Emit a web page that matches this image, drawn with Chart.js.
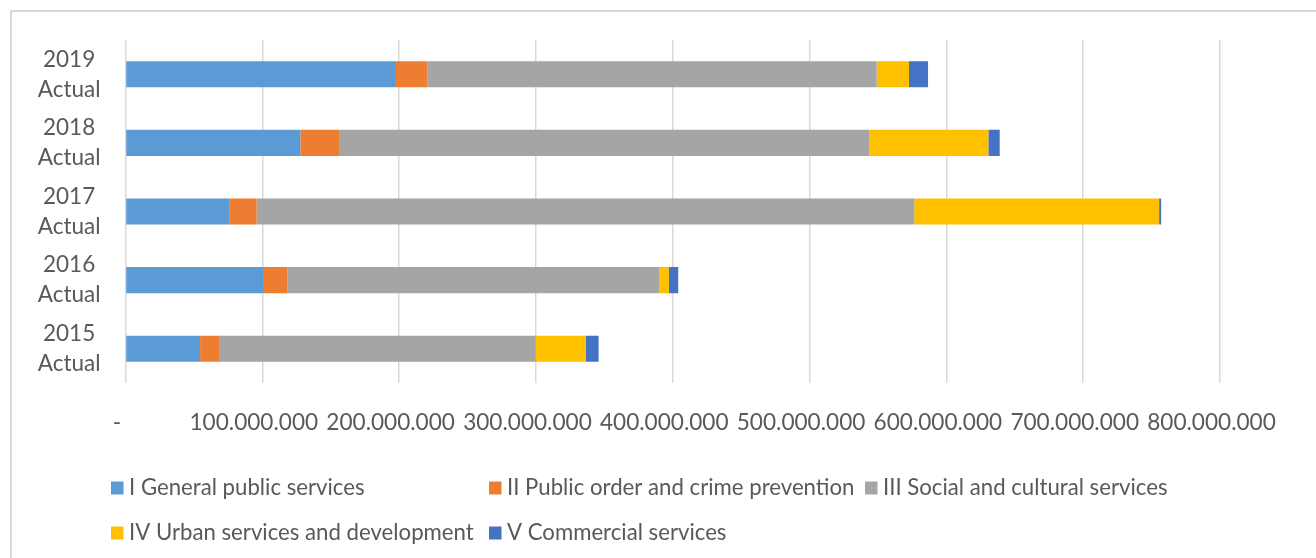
<!DOCTYPE html>
<html>
<head>
<meta charset="utf-8">
<script src="https://cdn.jsdelivr.net/npm/chart.js@4.4.1/dist/chart.umd.min.js"></script>
<style>
html,body{margin:0;padding:0;background:#fff;}
#wrap{position:relative;width:1316px;height:558px;}
</style>
</head>
<body>
<div id="wrap"><canvas id="c" width="1316" height="558"></canvas></div>
<script>
// ---- data ----
const categories = [['2019','Actual'], ['2018','Actual'], ['2017','Actual'], ['2016','Actual'], ['2015','Actual']];
const seriesNames = [
  'I General public services',
  'II Public order and crime prevention',
  'III Social and cultural services',
  'IV Urban services and development',
  'V Commercial services'
];
const generalPublic   = [197700000, 127800000,  76200000, 100500000,  54500000];
const publicOrder     = [ 22900000,  28300000,  19700000,  17800000,  14400000];
const socialCultural  = [328500000, 387500000, 480600000, 271700000, 231000000];
const urbanServices   = [ 23600000,  87100000, 179000000,   7200000,  36600000];
const commercial      = [ 13900000,   8300000,   1500000,   6800000,   9300000];
const tickLabels = ['-', '100.000.000', '200.000.000', '300.000.000', '400.000.000',
                    '500.000.000', '600.000.000', '700.000.000', '800.000.000'];

// ---- style ----
const colors = ['#5B9BD5', '#ED7D31', '#A5A5A5', '#FFC000', '#4472C4'];
const textColor = '#595959';
const gridColor = '#D9D9D9';
const FONT = 'Lato, "Liberation Sans", Arial, sans-serif';

const seriesValues = [generalPublic, publicOrder, socialCultural, urbanServices, commercial];

const frame = {
  id: 'frame',
  beforeDraw(chart) {
    const ctx = chart.ctx;
    ctx.save();
    ctx.fillStyle = '#fff';
    ctx.fillRect(0, 0, chart.width, chart.height);
    ctx.strokeStyle = '#D9D9D9';
    ctx.lineWidth = 2;
    ctx.strokeRect(11, 11, chart.width + 20, chart.height + 20);
    ctx.restore();
  }
};

const gridLegend = {
  id: 'gridLegend',
  afterDraw(chart) {
    const ctx = chart.ctx;
    const colX = [111, 489, 865];
    const rowY = [488, 533];
    ctx.save();
    ctx.font = '22.2px ' + FONT;
    ctx.textBaseline = 'middle';
    ctx.textAlign = 'left';
    chart.data.datasets.forEach((ds, i) => {
      const col = i % 3, row = Math.floor(i / 3);
      const x = colX[col], y = rowY[row];
      ctx.fillStyle = ds.backgroundColor;
      ctx.fillRect(x, y - 6.5, 12.5, 13);
      ctx.fillStyle = textColor;
      ctx.fillText(ds.label, x + 18, y);
    });
    ctx.restore();
  }
};

new Chart(document.getElementById('c'), {
  type: 'bar',
  data: {
    labels: categories,
    datasets: seriesNames.map((name, i) => ({
      label: name,
      data: seriesValues[i],
      backgroundColor: colors[i],
      borderWidth: 0,
      categoryPercentage: 1,
      barPercentage: 0.38
    }))
  },
  options: {
    indexAxis: 'y',
    responsive: false,
    animation: false,
    layout: { padding: { top: 40, right: 96, bottom: 0, left: 10 } },
    plugins: { legend: { display: false }, tooltip: { enabled: false } },
    scales: {
      x: {
        stacked: true,
        min: 0, max: 800000000,
        ticks: {
          stepSize: 100000000,
          color: textColor,
          font: { family: FONT, size: 22.6 },
          padding: 26,
          labelOffset: -8.5,
          maxRotation: 0,
          autoSkip: false,
          callback: (v, i) => tickLabels[i]
        },
        grid: { color: gridColor, lineWidth: 1.5, drawTicks: false },
        border: { display: false },
        afterFit(scale) { scale.height = 175; scale.paddingLeft = 0; scale.paddingRight = 0; }
      },
      y: {
        stacked: true,
        ticks: {
          color: textColor,
          crossAlign: 'center',
          padding: 25,
          font: { family: FONT, size: 22.5, lineHeight: 1.33 }
        },
        grid: { display: false, drawTicks: false },
        border: { display: false },
        afterFit(scale) { scale.width = 115.5; scale.paddingTop = 0; scale.paddingBottom = 0; }
      }
    }
  },
  plugins: [frame, gridLegend]
});
</script>
</body>
</html>
